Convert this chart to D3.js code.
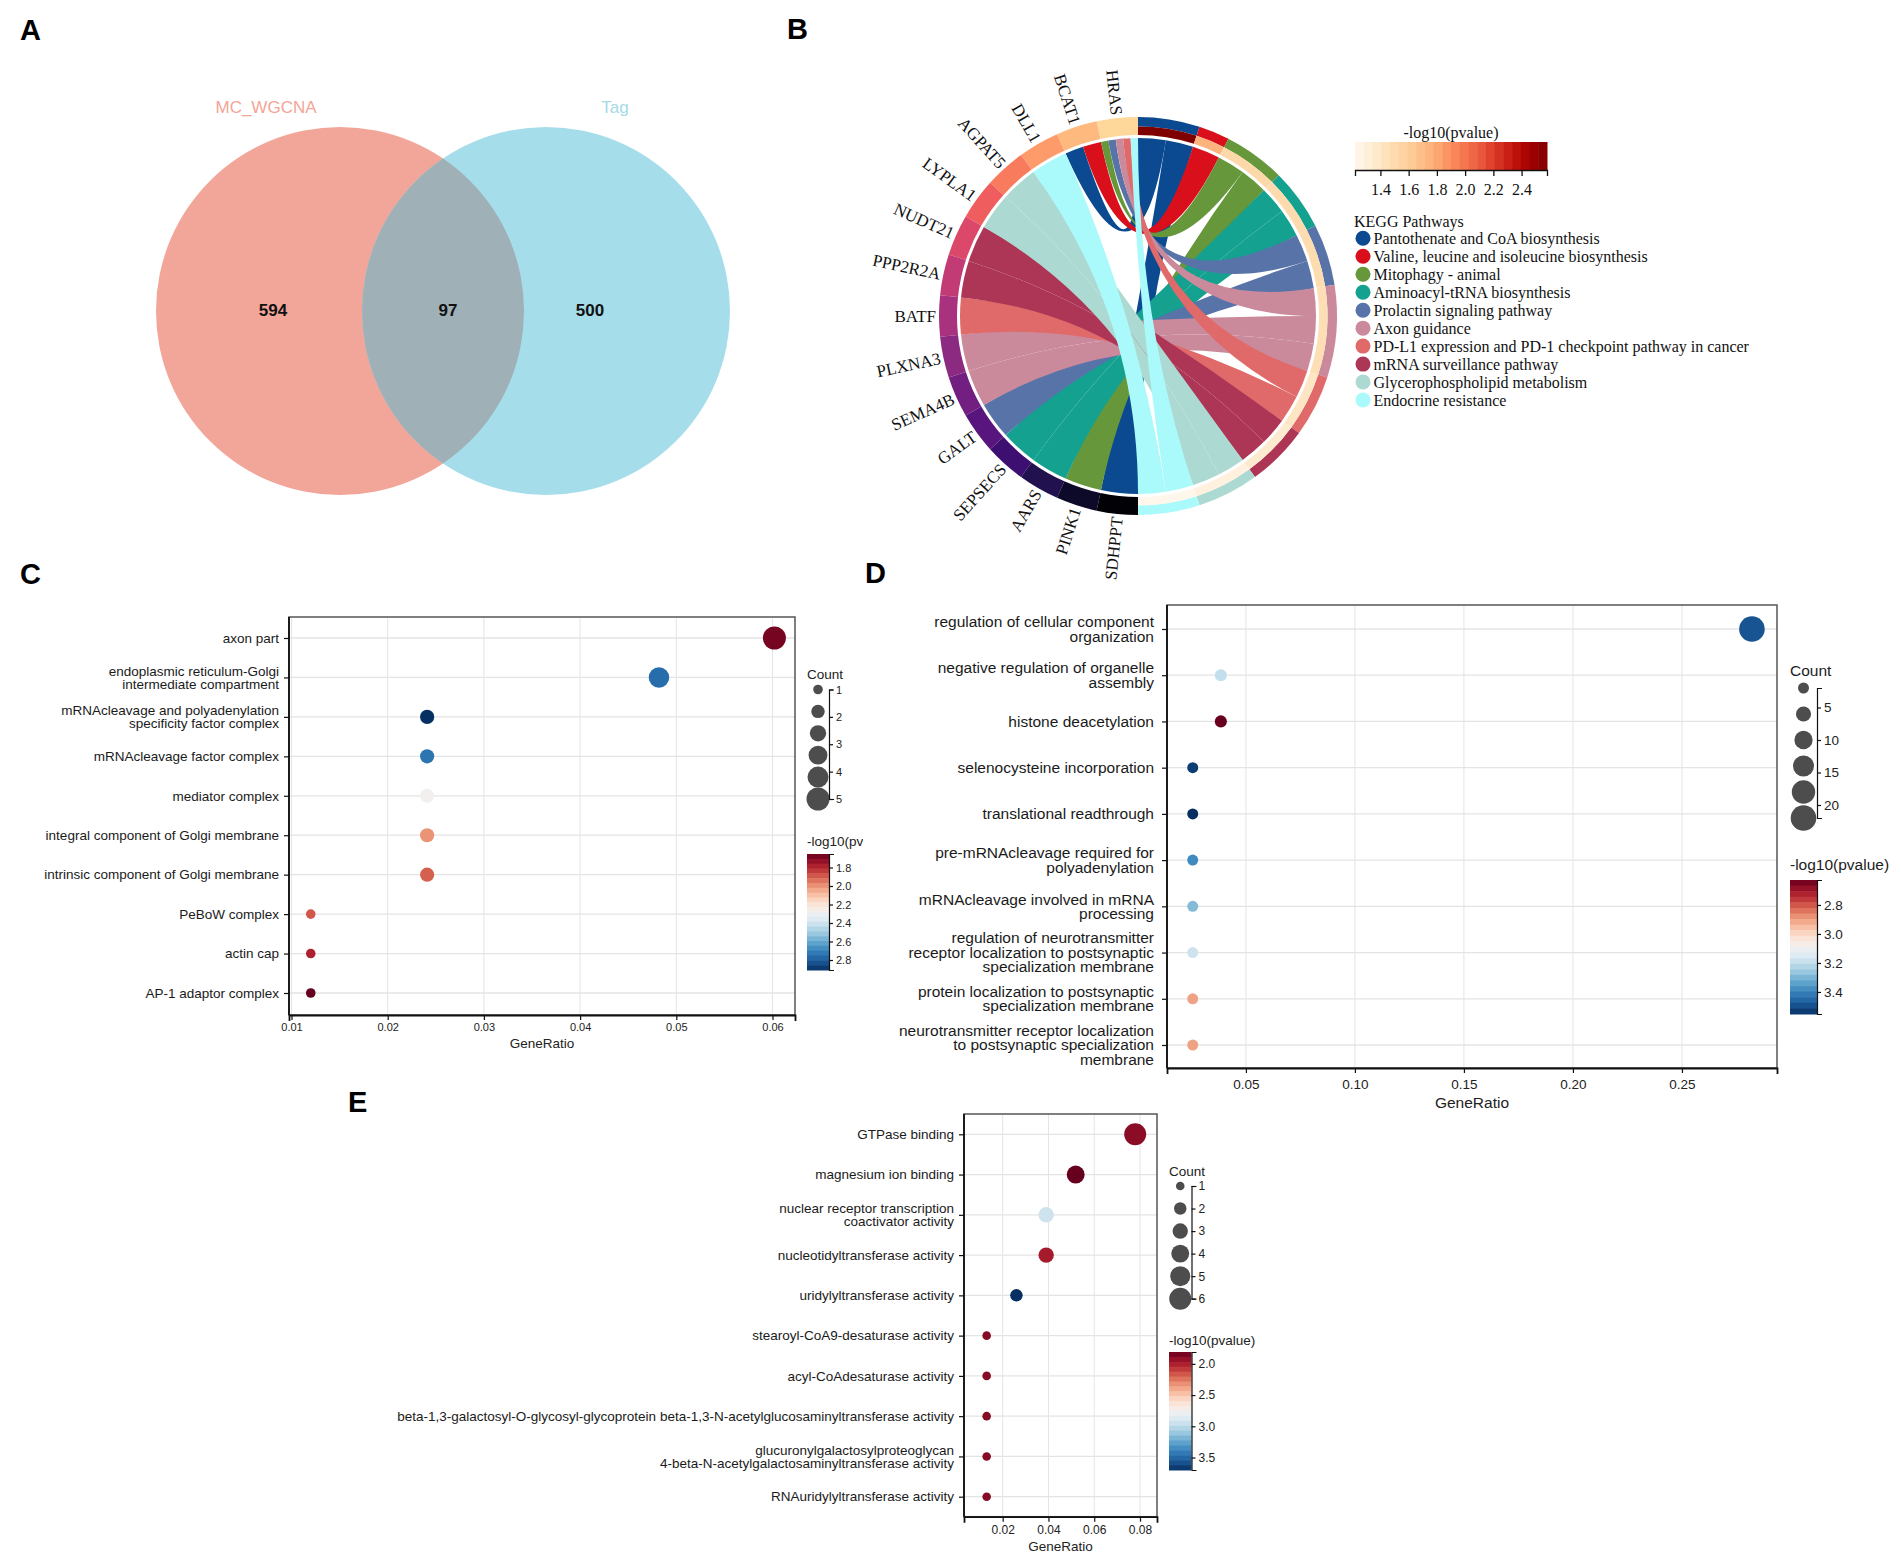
<!DOCTYPE html>
<html>
<head>
<meta charset="utf-8">
<script src="https://d3js.org/d3.v7.min.js"></script>
<style>
  body { margin: 0; background: #fff; }
</style>
</head>
<body>
<svg id="fig" width="1901" height="1558"></svg>
<script>
const SANS = "'Liberation Sans', Arial, sans-serif";
const SERIF = "'Liberation Serif', 'Times New Roman', serif";

// ---------- Panel A data ----------
const vennSets = ["MC_WGCNA", "Tag"];
const vennCounts = [594, 97, 500]; // left only, shared, right only

// ---------- Panel B data ----------
const genes = ["HRAS", "BCAT1", "DLL1", "AGPAT5", "LYPLA1", "NUDT21", "PPP2R2A", "BATF",
  "PLXNA3", "SEMA4B", "GALT", "SEPSECS", "AARS", "PINK1", "AASDHPPT"];
const pathways = [
  "Pantothenate and CoA biosynthesis",
  "Valine, leucine and isoleucine biosynthesis",
  "Mitophagy - animal",
  "Aminoacyl-tRNA biosynthesis",
  "Prolactin signaling pathway",
  "Axon guidance",
  "PD-L1 expression and PD-1 checkpoint pathway in cancer",
  "mRNA surveillance pathway",
  "Glycerophospholipid metabolism",
  "Endocrine resistance"
];
const pathwayColors = ["#0b4a91", "#d9101b", "#66973a", "#14a18f", "#5873a8",
  "#ca8a9c", "#e06a6a", "#ad3556", "#acd9d2", "#aafafb"];
const pathwayLogP = [2.58, 1.75, 1.52, 1.50, 1.49, 1.47, 1.40, 1.36, 1.29, 1.22];
const pathwayGenes = [
  ["BCAT1", "AASDHPPT"],
  ["BCAT1"],
  ["HRAS", "PINK1"],
  ["SEPSECS", "AARS"],
  ["HRAS", "GALT"],
  ["HRAS", "PLXNA3", "SEMA4B"],
  ["HRAS", "BATF"],
  ["NUDT21", "PPP2R2A"],
  ["AGPAT5", "LYPLA1"],
  ["HRAS", "DLL1"]
];
const keggTicks = [1.4, 1.6, 1.8, 2.0, 2.2, 2.4];

// ---------- Panel C data (GO CC) ----------
const ccTerms = [
  "axon part",
  "endoplasmic reticulum-Golgi\nintermediate compartment",
  "mRNAcleavage and polyadenylation\nspecificity factor complex",
  "mRNAcleavage factor complex",
  "mediator complex",
  "integral component of Golgi membrane",
  "intrinsic component of Golgi membrane",
  "PeBoW complex",
  "actin cap",
  "AP-1 adaptor complex"
];
const ccRatio = [0.0602, 0.0482, 0.0241, 0.0241, 0.0241, 0.0241, 0.0241, 0.0120, 0.0120, 0.0120];
const ccCount = [5, 4, 2, 2, 2, 2, 2, 1, 1, 1];
const ccLogP = [1.68, 2.76, 2.908, 2.74, 2.28, 2.00, 1.905, 1.89, 1.78, 1.654];
const ccXTicks = [0.01, 0.02, 0.03, 0.04, 0.05, 0.06];
const ccCountTicks = [1, 2, 3, 4, 5];
const ccColorTicks = [1.8, 2.0, 2.2, 2.4, 2.6, 2.8];

// ---------- Panel D data (GO BP) ----------
const bpTerms = [
  "regulation of cellular component\norganization",
  "negative regulation of organelle\nassembly",
  "histone deacetylation",
  "selenocysteine incorporation",
  "translational readthrough",
  "pre-mRNAcleavage required for\npolyadenylation",
  "mRNAcleavage involved in mRNA\nprocessing",
  "regulation of neurotransmitter\nreceptor localization to postsynaptic\nspecialization membrane",
  "protein localization to postsynaptic\nspecialization membrane",
  "neurotransmitter receptor localization\nto postsynaptic specialization\nmembrane"
];
const bpRatio = [0.2821, 0.0385, 0.0385, 0.0256, 0.0256, 0.0256, 0.0256, 0.0256, 0.0256, 0.0256];
const bpCount = [22, 3, 3, 2, 2, 2, 2, 2, 2, 2];
const bpLogP = [3.49, 3.20, 2.628, 3.53, 3.552, 3.386, 3.29, 3.18, 2.905, 2.905];
const bpXTicks = [0.05, 0.10, 0.15, 0.20, 0.25];
const bpCountTicks = [5, 10, 15, 20];
const bpColorTicks = [2.8, 3.0, 3.2, 3.4];

// ---------- Panel E data (GO MF) ----------
const mfTerms = [
  "GTPase binding",
  "magnesium ion binding",
  "nuclear receptor transcription\ncoactivator activity",
  "nucleotidyltransferase activity",
  "uridylyltransferase activity",
  "stearoyl-CoA9-desaturase activity",
  "acyl-CoAdesaturase activity",
  "beta-1,3-galactosyl-O-glycosyl-glycoprotein beta-1,3-N-acetylglucosaminyltransferase activity",
  "glucuronylgalactosylproteoglycan\n4-beta-N-acetylgalactosaminyltransferase activity",
  "RNAuridylyltransferase activity"
];
const mfRatio = [0.0779, 0.0519, 0.0390, 0.0390, 0.0260, 0.0130, 0.0130, 0.0130, 0.0130, 0.0130];
const mfCount = [6, 4, 3, 3, 2, 1, 1, 1, 1, 1];
const mfLogP = [1.90, 1.81, 2.94, 1.98, 3.70, 1.89, 1.89, 1.89, 1.89, 1.89];
const mfXTicks = [0.02, 0.04, 0.06, 0.08];
const mfCountTicks = [1, 2, 3, 4, 5, 6];
const mfColorTicks = [2.0, 2.5, 3.0, 3.5];

const svg = d3.select("#fig");
svg.append("rect").attr("width", 1901).attr("height", 1558).attr("fill", "#fff");
const defs = svg.append("defs");

// panel letters
const letters = [["A", 20, 40], ["B", 787, 39], ["C", 20, 584], ["D", 865, 583], ["E", 348, 1112]];
svg.append("g").selectAll("text").data(letters).join("text")
  .attr("x", d => d[1]).attr("y", d => d[2])
  .attr("font-family", SANS).attr("font-weight", "bold").attr("font-size", 29)
  .attr("fill", "#000").text(d => d[0]);

// ================= Panel A: Venn =================
const venn = { cy: 311, r: 184, lx: 340, rx: 546 };
const gA = svg.append("g");
defs.append("clipPath").attr("id", "clipRight")
  .append("circle").attr("cx", venn.rx).attr("cy", venn.cy).attr("r", venn.r);
gA.append("circle").attr("cx", venn.lx).attr("cy", venn.cy).attr("r", venn.r).attr("fill", "#f2a599");
gA.append("circle").attr("cx", venn.rx).attr("cy", venn.cy).attr("r", venn.r).attr("fill", "#a6ddea");
gA.append("circle").attr("cx", venn.lx).attr("cy", venn.cy).attr("r", venn.r)
  .attr("fill", "#9fb0b6").attr("clip-path", "url(#clipRight)");
gA.selectAll("text.set").data(vennSets).join("text")
  .attr("class", "set")
  .attr("x", (d, i) => i === 0 ? 266 : 615).attr("y", 113)
  .attr("text-anchor", "middle").attr("font-family", SANS).attr("font-size", 17)
  .attr("fill", (d, i) => i === 0 ? "#f3a597" : "#a4dbe7").text(d => d);
const countX = [273, 448, 590];
gA.selectAll("text.cnt").data(vennCounts).join("text")
  .attr("class", "cnt")
  .attr("x", (d, i) => countX[i]).attr("y", 316)
  .attr("text-anchor", "middle").attr("font-family", SANS).attr("font-weight", "bold")
  .attr("font-size", 17).attr("fill", "#111").text(d => d);

// ================= Panel B: chord =================
const B = { cx: 1138, cy: 316, rOut: 199, rMid: 189.5, rIn: 181, rChord: 178, rLabel: 202 };
defs.append("clipPath").attr("id", "clipB")
  .append("rect").attr("x", 760).attr("y", 0).attr("width", 1141).attr("height", 581);
const gB = svg.append("g").attr("clip-path", "url(#clipB)");
const chord = gB.append("g").attr("transform", `translate(${B.cx},${B.cy})`);

const nG = genes.length;
const geneA = d3.scaleLinear().domain([0, nG]).range([2 * Math.PI, Math.PI]);
const geneT = d3.scaleLinear().domain([0, nG - 1]).range([0.92, 0.01]);

const links = [];
pathwayGenes.forEach((gs, j) => gs.forEach(gn => links.push({ p: j, g: genes.indexOf(gn) })));
const unit = Math.PI / links.length;
let acc = 0;
const pathArcs = pathways.map((name, j) => {
  const n = pathwayGenes[j].length;
  const a = { j, start: acc * unit, end: (acc + n) * unit };
  acc += n;
  return a;
});
pathArcs.forEach(pa => {
  const ls = links.filter(l => l.p === pa.j).sort((a, b) => a.g - b.g);
  ls.forEach((l, k) => { l.tStart = pa.start + k * unit; l.tEnd = l.tStart + unit; });
});
genes.forEach((gn, i) => {
  const ls = links.filter(l => l.g === i).sort((a, b) => a.p - b.p);
  const w = (geneA(i) - geneA(i + 1)) / ls.length;
  ls.forEach((l, k) => { l.sStart = geneA(i + 1) + k * w; l.sEnd = l.sStart + w; });
});

const ribbon = d3.ribbon().radius(B.rChord);
chord.append("g").selectAll("path").data(links).join("path")
  .attr("d", l => ribbon({
    source: { startAngle: l.sStart, endAngle: l.sEnd },
    target: { startAngle: l.tStart, endAngle: l.tEnd }
  }))
  .attr("fill", l => pathwayColors[l.p]);

const arc = d3.arc();
chord.append("g").selectAll("path").data(genes).join("path")
  .attr("d", (d, i) => arc({ innerRadius: B.rIn, outerRadius: B.rOut, startAngle: geneA(i + 1), endAngle: geneA(i) }))
  .attr("fill", (d, i) => d3.interpolateMagma(geneT(i)));

const pExt = d3.extent(pathwayLogP);
const pColor = d3.scaleSequential(d3.interpolateOrRd).domain(pExt);
chord.append("g").selectAll("path").data(pathArcs).join("path")
  .attr("d", pa => arc({ innerRadius: B.rMid, outerRadius: B.rOut, startAngle: pa.start, endAngle: pa.end }))
  .attr("fill", pa => pathwayColors[pa.j]);
chord.append("g").selectAll("path").data(pathArcs).join("path")
  .attr("d", pa => arc({ innerRadius: B.rIn, outerRadius: B.rMid, startAngle: pa.start, endAngle: pa.end }))
  .attr("fill", pa => pColor(pathwayLogP[pa.j]));

chord.append("g").attr("font-family", SERIF).attr("font-size", 17).attr("fill", "#111")
  .selectAll("text").data(genes).join("text")
  .attr("transform", (d, i) => {
    const a = (geneA(i) + geneA(i + 1)) / 2 * 180 / Math.PI - 90;
    return `rotate(${a}) translate(${B.rLabel},0) rotate(180)`;
  })
  .attr("text-anchor", "end").attr("dy", "0.35em").text(d => d);

// colour bar for pathways
const gKL = svg.append("g").attr("font-family", SERIF).attr("fill", "#111");
const kx = d3.scaleLinear().domain(pExt).range([1355, 1547]);
const nKB = 22;
const kStep = (pExt[1] - pExt[0]) / nKB;
gKL.append("g").selectAll("rect").data(d3.range(nKB).map(k => pExt[0] + k * kStep)).join("rect")
  .attr("x", d => kx(d)).attr("y", 142)
  .attr("width", (kx.range()[1] - kx.range()[0]) / nKB + 0.5).attr("height", 28)
  .attr("fill", d => pColor(d + kStep / 2));
const kAxis = gKL.append("g").attr("transform", "translate(0,170)")
  .call(d3.axisBottom(kx).tickValues(keggTicks).tickFormat(d3.format(".1f")).tickSize(6).tickPadding(8));
kAxis.attr("font-family", SERIF).attr("font-size", 16);
kAxis.selectAll("line, path").attr("stroke", "#111").attr("stroke-width", 1.3);
kAxis.selectAll("text").attr("fill", "#111");
gKL.append("text").attr("x", 1451).attr("y", 138).attr("text-anchor", "middle")
  .attr("font-size", 16).text("-log10(pvalue)");
gKL.append("text").attr("x", 1354).attr("y", 227).attr("font-size", 16).text("KEGG Pathways");
const kItems = gKL.append("g").selectAll("g").data(pathways).join("g")
  .attr("transform", (d, j) => `translate(1363,${238.3 + j * 17.97})`);
kItems.append("circle").attr("r", 7.5).attr("fill", (d, j) => pathwayColors[j]);
kItems.append("text").attr("x", 10.5).attr("dy", "0.35em").attr("font-size", 16).text(d => d);

// ================= dot plots =================
function dotPlot(p) {
  const g = svg.append("g").attr("font-family", SANS);
  if (p.clipX) {
    const id = "clip" + p.name;
    defs.append("clipPath").attr("id", id).append("rect")
      .attr("x", 0).attr("y", p.y0 - 80).attr("width", p.clipX).attr("height", p.y1 - p.y0 + 160);
    g.attr("clip-path", `url(#${id})`);
  }
  const x = d3.scaleLinear().domain(p.xDomain).range([p.x0, p.x1]);
  const y = d3.scalePoint().domain(p.terms).range([p.yTop, p.yBot]);
  const cExt = d3.extent(p.logp);
  const nExt = d3.extent(p.count);
  const color = d3.scaleSequential(d3.interpolateRdBu).domain(cExt);
  const size = d3.scaleRadial().domain(nExt).range(p.rRange);

  // grid
  g.append("g").selectAll("line").data(p.xTicks).join("line")
    .attr("x1", d => x(d)).attr("x2", d => x(d)).attr("y1", p.y0).attr("y2", p.y1)
    .attr("stroke", "#e4e4e4").attr("stroke-width", 1);
  g.append("g").selectAll("line").data(p.terms).join("line")
    .attr("x1", p.x0).attr("x2", p.x1).attr("y1", d => y(d)).attr("y2", d => y(d))
    .attr("stroke", "#e4e4e4").attr("stroke-width", 1.3);
  g.append("rect").attr("x", p.x0).attr("y", p.y0)
    .attr("width", p.x1 - p.x0).attr("height", p.y1 - p.y0)
    .attr("fill", "none").attr("stroke", "#555").attr("stroke-width", 1.5);

  // dots
  g.append("g").selectAll("circle").data(p.terms).join("circle")
    .attr("cx", (d, i) => x(p.ratio[i])).attr("cy", d => y(d))
    .attr("r", (d, i) => size(p.count[i]))
    .attr("fill", (d, i) => color(p.logp[i]));

  // x axis
  const xa = g.append("g").attr("transform", `translate(0,${p.y1})`)
    .call(d3.axisBottom(x).tickValues(p.xTicks).tickFormat(d3.format(".2f"))
      .tickSize(5).tickSizeOuter(6).tickPadding(p.tickPad));
  xa.attr("font-family", SANS).attr("font-size", p.tickFont);
  xa.select(".domain").attr("stroke", "#111").attr("stroke-width", 1.8);
  xa.selectAll(".tick line").attr("stroke", "#111").attr("stroke-width", 1.2);
  xa.selectAll("text").attr("fill", "#222");
  g.append("text").attr("x", (p.x0 + p.x1) / 2).attr("y", p.xTitleY)
    .attr("text-anchor", "middle").attr("font-size", p.titleFont).attr("fill", "#222").text("GeneRatio");

  // y axis
  const ya = g.append("g").attr("transform", `translate(${p.x0},0)`)
    .call(d3.axisLeft(y).tickSize(5).tickSizeOuter(0).tickFormat(""));
  ya.select(".domain").remove();
  ya.selectAll(".tick line").attr("stroke", "#111").attr("stroke-width", 1.2);
  g.append("line").attr("x1", p.x0).attr("x2", p.x0).attr("y1", p.y0).attr("y2", p.y1)
    .attr("stroke", "#111").attr("stroke-width", 1.8);

  const lab = g.append("g").attr("font-size", p.labelFont).attr("fill", "#1a1a1a").attr("text-anchor", "end");
  p.terms.forEach(t => {
    const lines = t.split("\n");
    const txt = lab.append("text");
    lines.forEach((ln, k) => txt.append("tspan")
      .attr("x", p.x0 - p.labelGap)
      .attr("y", y(t) + (k - (lines.length - 1) / 2) * p.lineH)
      .attr("dy", "0.35em").text(ln));
  });

  // size legend
  const lg = g.append("g");
  lg.append("text").attr("x", p.legX).attr("y", p.countTitleY)
    .attr("font-size", p.legTitleFont).attr("fill", "#222").text("Count");
  const sy = d3.scaleLinear().domain(nExt).range([p.sizeTop, p.sizeBot]);
  const steps = d3.range(6).map(k => nExt[0] + k * (nExt[1] - nExt[0]) / 5);
  lg.append("g").selectAll("circle").data(steps).join("circle")
    .attr("cx", p.legX + p.cbW / 2).attr("cy", d => sy(d)).attr("r", d => size(d)).attr("fill", "#4d4d4d");
  const sa = lg.append("g").attr("transform", `translate(${p.legX + p.cbW},0)`)
    .call(d3.axisRight(sy).tickValues(p.countTicks).tickFormat(d3.format("d"))
      .tickSize(4).tickSizeOuter(5).tickPadding(3));
  sa.attr("font-family", SANS).attr("font-size", p.legFont);
  sa.selectAll("line, path").attr("stroke", "#111").attr("stroke-width", 1.2);
  sa.selectAll("text").attr("fill", "#222");

  // colour legend
  lg.append("text").attr("x", p.legX).attr("y", p.colorTitleY)
    .attr("font-size", p.legTitleFont).attr("fill", "#222").text("-log10(pvalue)");
  const cy = d3.scaleLinear().domain(cExt).range([p.cbTop, p.cbBot]);
  const nb = 24;
  const cStep = (cExt[1] - cExt[0]) / nb;
  lg.append("g").selectAll("rect").data(d3.range(nb).map(k => cExt[0] + k * cStep)).join("rect")
    .attr("x", p.legX).attr("y", d => cy(d)).attr("width", p.cbW)
    .attr("height", (p.cbBot - p.cbTop) / nb + 0.5)
    .attr("fill", d => color(d + cStep / 2));
  const ca = lg.append("g").attr("transform", `translate(${p.legX + p.cbW},0)`)
    .call(d3.axisRight(cy).tickValues(p.colorTicks).tickFormat(d3.format(".1f"))
      .tickSize(4).tickSizeOuter(5).tickPadding(3));
  ca.attr("font-family", SANS).attr("font-size", p.legFont);
  ca.selectAll("line, path").attr("stroke", "#111").attr("stroke-width", 1.2);
  ca.selectAll("text").attr("fill", "#222");
}

dotPlot({
  name: "C", terms: ccTerms, ratio: ccRatio, count: ccCount, logp: ccLogP,
  x0: 289, x1: 795, y0: 617, y1: 1015, yTop: 638, yBot: 993,
  xDomain: [0.00974, 0.06234], xTicks: ccXTicks, rRange: [4.8, 11.5],
  labelFont: 13.5, lineH: 13.3, labelGap: 10, tickFont: 11, tickPad: 3,
  titleFont: 13.5, xTitleY: 1048,
  legX: 807, cbW: 22, countTitleY: 679, sizeTop: 689.5, sizeBot: 799,
  colorTitleY: 846, cbTop: 854, cbBot: 970, legTitleFont: 13.5, legFont: 11,
  countTicks: ccCountTicks, colorTicks: ccColorTicks, clipX: 863
});

dotPlot({
  name: "D", terms: bpTerms, ratio: bpRatio, count: bpCount, logp: bpLogP,
  x0: 1167, x1: 1777, y0: 605, y1: 1068, yTop: 629, yBot: 1045,
  xDomain: [0.0138, 0.2936], xTicks: bpXTicks, rRange: [5.5, 12.8],
  labelFont: 15.5, lineH: 14.5, labelGap: 13, tickFont: 13.5, tickPad: 6,
  titleFont: 15.5, xTitleY: 1108,
  legX: 1790, cbW: 27, countTitleY: 676, sizeTop: 688, sizeBot: 818,
  colorTitleY: 870, cbTop: 880, cbBot: 1014, legTitleFont: 15.5, legFont: 13.5,
  countTicks: bpCountTicks, colorTicks: bpColorTicks
});

dotPlot({
  name: "E", terms: mfTerms, ratio: mfRatio, count: mfCount, logp: mfLogP,
  x0: 964, x1: 1157, y0: 1114, y1: 1516.7, yTop: 1134.3, yBot: 1496.7,
  xDomain: [0.00309, 0.08743], xTicks: mfXTicks, rRange: [4.3, 11],
  labelFont: 13.5, lineH: 13, labelGap: 10, tickFont: 12, tickPad: 4,
  titleFont: 13.5, xTitleY: 1551,
  legX: 1169, cbW: 22.5, countTitleY: 1175.5, sizeTop: 1186, sizeBot: 1298.7,
  colorTitleY: 1345, cbTop: 1352, cbBot: 1470, legTitleFont: 13.5, legFont: 12,
  countTicks: mfCountTicks, colorTicks: mfColorTicks
});
</script>
</body>
</html>
